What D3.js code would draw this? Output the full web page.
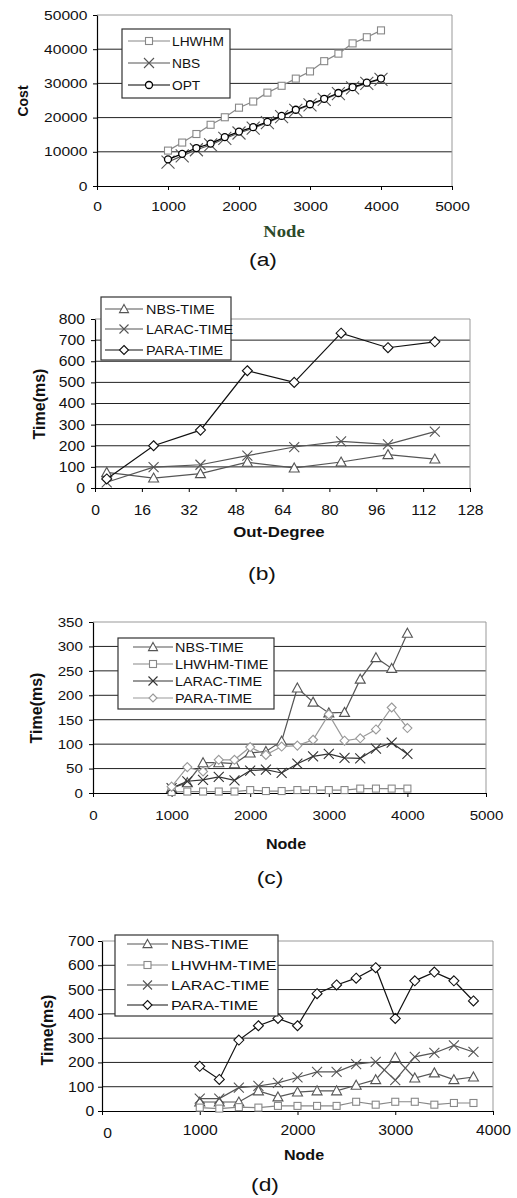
<!DOCTYPE html>
<html>
<head>
<meta charset="utf-8">
<script src="https://cdn.jsdelivr.net/npm/d3@7"></script>
<style>
  body { margin: 0; background: #fff; }
  svg { display: block; font-family: "Liberation Sans", Arial, sans-serif; }
</style>
</head>
<body>
<svg id="chart" width="517" height="1198"></svg>
<script>
// ---- panel (a): cost vs node count
var nodesA = [1000, 1200, 1400, 1600, 1800, 2000, 2200, 2400, 2600, 2800, 3000, 3200, 3400, 3600, 3800, 4000];
var costLHWHM = [10350, 12700, 15200, 17900, 20100, 22900, 24700, 27300, 29300, 31400, 33500, 36500, 38700, 41700, 43500, 45500];
var costNBS = [7000, 8800, 10600, 12000, 13900, 15500, 16900, 18500, 20300, 22100, 23700, 25300, 27000, 28700, 30000, 31200];
var costOPT = [7800, 9400, 11100, 12400, 14300, 15900, 17200, 18750, 20500, 22300, 23900, 25500, 27200, 28900, 30200, 31400];
var ticksXA = [0, 1000, 2000, 3000, 4000, 5000];
var ticksYA = [0, 10000, 20000, 30000, 40000, 50000];

// ---- panel (b): time vs out-degree
var degreeB = [4, 20, 36, 52, 68, 84, 100, 116];
var timeNBSb = [74, 47, 68, 122, 95, 123, 158, 137];
var timeLARACb = [27, 99, 110, 153, 194, 221, 207, 267];
var timePARAb = [43, 200, 274, 555, 500, 733, 664, 692];
var ticksXB = [0, 16, 32, 48, 64, 80, 96, 112, 128];
var ticksYB = [0, 100, 200, 300, 400, 500, 600, 700, 800];

// ---- panel (c): time vs node count
var nodesC = [1000, 1200, 1400, 1600, 1800, 2000, 2200, 2400, 2600, 2800, 3000, 3200, 3400, 3600, 3800, 4000];
var timeNBSc = [10, 21, 62, 62, 60, 82, 85, 106, 215, 186, 164, 165, 233, 277, 255, 327];
var timeLHWHMc = [2, 3, 3, 3, 3, 6, 4, 4, 6, 6, 6, 6, 9, 9, 9, 9];
var timeLARACc = [10, 24, 27, 33, 26, 46, 48, 41, 60, 75, 80, 72, 71, 91, 103, 80];
var timePARAc = [13, 53, 44, 68, 68, 94, 78, 95, 97, 109, 161, 107, 112, 130, 175, 133];
var ticksXC = [0, 1000, 2000, 3000, 4000, 5000];
var ticksYC = [0, 50, 100, 150, 200, 250, 300, 350];

// ---- panel (d): time vs node count
var nodesD = [1000, 1200, 1400, 1600, 1800, 2000, 2200, 2400, 2600, 2800, 3000, 3200, 3400, 3600, 3800];
var timeNBSd = [37, 37, 37, 83, 58, 78, 83, 83, 106, 129, 220, 136, 157, 129, 140];
var timeLHWHMd = [14, 10, 16, 14, 21, 21, 21, 21, 38, 26, 38, 38, 26, 33, 33];
var timeLARACd = [51, 51, 96, 103, 116, 138, 161, 161, 193, 202, 127, 223, 239, 270, 243];
var timePARAd = [184, 130, 292, 351, 381, 351, 483, 519, 547, 590, 381, 536, 572, 536, 453];
var ticksXD = [0, 1000, 2000, 3000, 4000];
var ticksYD = [0, 100, 200, 300, 400, 500, 600, 700];

var svg = d3.select("#chart");

function drawMarker(g, type, x, y, color, s) {
    if (type == "square") {
        g.append("rect").attr("x", x - s).attr("y", y - s).attr("width", 2 * s).attr("height", 2 * s)
            .attr("fill", "#fff").attr("stroke", color).attr("stroke-width", 1.1);
    } else if (type == "circle") {
        g.append("circle").attr("cx", x).attr("cy", y).attr("r", s)
            .attr("fill", "#fff").attr("stroke", color).attr("stroke-width", 1.3);
    } else if (type == "triangle") {
        g.append("path").attr("d", "M" + x + "," + (y - s) + "L" + (x + s) + "," + (y + s * 0.8) + "L" + (x - s) + "," + (y + s * 0.8) + "Z")
            .attr("fill", "#fff").attr("stroke", color).attr("stroke-width", 1.1);
    } else if (type == "diamond") {
        g.append("path").attr("d", "M" + x + "," + (y - s) + "L" + (x + s) + "," + y + "L" + x + "," + (y + s) + "L" + (x - s) + "," + y + "Z")
            .attr("fill", "#fff").attr("stroke", color).attr("stroke-width", 1.1);
    } else if (type == "x") {
        g.append("path").attr("d", "M" + (x - s) + "," + (y - s) + "L" + (x + s) + "," + (y + s) + "M" + (x - s) + "," + (y + s) + "L" + (x + s) + "," + (y - s))
            .attr("fill", "none").attr("stroke", color).attr("stroke-width", 1.1);
    }
}

function drawPanel(p) {
    var g = svg.append("g");
    var x = d3.scaleLinear().domain(p.xDomain).range([p.left, p.right]);
    var y = d3.scaleLinear().domain(p.yDomain).range([p.bottom, p.top]);

    // gridlines
    g.selectAll(".grid").data(p.yTicks.filter(function(d) { return d > 0; }))
        .enter().append("line")
        .attr("x1", p.left).attr("x2", p.right)
        .attr("y1", function(d) { return y(d); }).attr("y2", function(d) { return y(d); })
        .attr("stroke", function(d) { return d == p.yDomain[1] ? "#999" : "#222"; })
        .attr("stroke-width", 1);
    g.append("line").attr("x1", p.right).attr("x2", p.right).attr("y1", p.top).attr("y2", p.bottom)
        .attr("stroke", "#999");

    // axes
    var ax = g.append("g").attr("transform", "translate(0," + p.bottom + ")")
        .call(d3.axisBottom(x).tickValues(p.xTicks).tickSize(4).tickPadding(p.xPad).tickSizeOuter(0)
            .tickFormat(d3.format("d")));
    var ay = g.append("g").attr("transform", "translate(" + p.left + ",0)")
        .call(d3.axisLeft(y).tickValues(p.yTicks).tickSize(4).tickPadding(p.yPad).tickSizeOuter(0)
            .tickFormat(d3.format("d")));
    [ax, ay].forEach(function(a) {
        a.select(".domain").attr("stroke", "#000").attr("stroke-width", 1.2);
        a.selectAll(".tick line").attr("stroke", "#000");
        a.selectAll("text").attr("font-size", p.fontSize).attr("fill", "#111")
            .attr("font-family", "'Liberation Sans', Arial, sans-serif")
            .attr("transform", "scale(" + p.sx + ",1)");
    });
    if (p.xLabelShift) {
        ax.selectAll(".tick").filter(function(d) { return d == 0; }).select("text")
            .attr("transform", "translate(" + p.xLabelShift[0] + "," + p.xLabelShift[1] + ") scale(" + p.sx + ",1)");
    }

    // series
    var line = d3.line().x(function(d) { return x(d[0]); }).y(function(d) { return y(d[1]); });
    p.series.forEach(function(s) {
        var pts = s.xs.map(function(v, i) { return [v, s.values[i]]; });
        g.append("path").datum(pts).attr("d", line)
            .attr("fill", "none").attr("stroke", s.color).attr("stroke-width", 1.2);
        var mg = g.append("g");
        pts.forEach(function(d) { drawMarker(mg, s.marker, x(d[0]), y(d[1]), s.color, s.size); });
    });

    // legend
    var lg = g.append("g");
    lg.append("rect").attr("x", p.legend.box[0]).attr("y", p.legend.box[1])
        .attr("width", p.legend.box[2] - p.legend.box[0]).attr("height", p.legend.box[3] - p.legend.box[1])
        .attr("fill", "#fff").attr("stroke", "#333").attr("stroke-width", 1.2);
    p.series.forEach(function(s, i) {
        var ry = p.legend.rows[i];
        lg.append("line").attr("x1", p.legend.line[0]).attr("x2", p.legend.line[1])
            .attr("y1", ry).attr("y2", ry).attr("stroke", s.color).attr("stroke-width", 1.2);
        drawMarker(lg, s.marker, (p.legend.line[0] + p.legend.line[1]) / 2, ry, s.color, s.legendSize || s.size * 0.8);
        lg.append("text").attr("transform", "translate(" + p.legend.textX + "," + (ry + 4.5) + ") scale(" + p.legend.sx + ",1)")
            .attr("font-size", 12.5).attr("fill", "#111").text(s.name);
    });

    // titles
    g.append("text").attr("transform", "translate(" + p.xTitle.x + "," + p.xTitle.y + ") scale(" + p.xTitle.sx + ",1)")
        .attr("text-anchor", "middle").attr("font-size", p.xTitle.size).attr("font-weight", "bold")
        .attr("font-family", p.xTitle.family || "'Liberation Sans', Arial, sans-serif")
        .attr("fill", p.xTitle.color || "#111").text(p.xTitle.text);
    g.append("text").attr("transform", "translate(" + p.yTitle.x + "," + p.yTitle.y + ") rotate(-90)")
        .attr("text-anchor", "middle").attr("font-size", p.yTitle.size).attr("font-weight", "bold")
        .attr("fill", "#111").text(p.yTitle.text);
    g.append("text").attr("transform", "translate(" + p.caption.x + "," + p.caption.y + ") scale(1.2,1)")
        .attr("text-anchor", "middle").attr("font-size", 19).attr("fill", "#111").text(p.caption.text);
}

drawPanel({
    left: 97, right: 452, top: 15, bottom: 186,
    xDomain: [0, 5000], yDomain: [0, 50000], xTicks: ticksXA, yTicks: ticksYA,
    fontSize: 13, sx: 1.2, xPad: 12, yPad: 4,
    series: [
        { name: "LHWHM", xs: nodesA, values: costLHWHM, color: "#888", marker: "square", size: 3.5, legendSize: 3.5 },
        { name: "NBS", xs: nodesA, values: costNBS, color: "#555", marker: "x", size: 6.5, legendSize: 5 },
        { name: "OPT", xs: nodesA, values: costOPT, color: "#000", marker: "circle", size: 3.5, legendSize: 3.5 }
    ],
    legend: { box: [122, 29, 230, 98], rows: [41, 63, 85], line: [128, 170], textX: 172, sx: 1.1 },
    xTitle: { text: "Node", x: 284, y: 237, size: 17, sx: 1.1, family: "'Liberation Serif', 'Times New Roman', serif", color: "#2d4a2b" },
    yTitle: { text: "Cost", x: 28, y: 101, size: 14 },
    caption: { text: "(a)", x: 263, y: 266 }
});

drawPanel({
    left: 95, right: 470, top: 319, bottom: 488,
    xDomain: [0, 128], yDomain: [0, 800], xTicks: ticksXB, yTicks: ticksYB,
    fontSize: 14, sx: 1.12, xPad: 13, yPad: 5,
    series: [
        { name: "NBS-TIME", xs: degreeB, values: timeNBSb, color: "#555", marker: "triangle", size: 5, legendSize: 4.5 },
        { name: "LARAC-TIME", xs: degreeB, values: timeLARACb, color: "#555", marker: "x", size: 5, legendSize: 4.5 },
        { name: "PARA-TIME", xs: degreeB, values: timePARAb, color: "#111", marker: "diamond", size: 5, legendSize: 4.5 }
    ],
    legend: { box: [101, 297, 231, 360], rows: [309, 329, 350], line: [105, 143], textX: 146, sx: 1.15 },
    xTitle: { text: "Out-Degree", x: 279, y: 537, size: 14, sx: 1.2 },
    yTitle: { text: "Time(ms)", x: 45, y: 404, size: 16 },
    caption: { text: "(b)", x: 262, y: 580 }
});

drawPanel({
    left: 93, right: 486, top: 622, bottom: 793,
    xDomain: [0, 5000], yDomain: [0, 350], xTicks: ticksXC, yTicks: ticksYC,
    fontSize: 13.5, sx: 1.12, xPad: 13, yPad: 5,
    series: [
        { name: "NBS-TIME", xs: nodesC, values: timeNBSc, color: "#555", marker: "triangle", size: 5, legendSize: 4.5 },
        { name: "LHWHM-TIME", xs: nodesC, values: timeLHWHMc, color: "#888", marker: "square", size: 3.5, legendSize: 3.5 },
        { name: "LARAC-TIME", xs: nodesC, values: timeLARACc, color: "#333", marker: "x", size: 5, legendSize: 4.5 },
        { name: "PARA-TIME", xs: nodesC, values: timePARAc, color: "#999", marker: "diamond", size: 4.5, legendSize: 4 }
    ],
    legend: { box: [118, 638, 274, 709], rows: [647, 664, 681, 698], line: [133, 173], textX: 175, sx: 1.15 },
    xTitle: { text: "Node", x: 286, y: 849, size: 14, sx: 1.15 },
    yTitle: { text: "Time(ms)", x: 42, y: 708, size: 16 },
    caption: { text: "(c)", x: 270, y: 884 }
});

drawPanel({
    left: 102, right: 493, top: 941, bottom: 1111,
    xDomain: [0, 4000], yDomain: [0, 700], xTicks: ticksXD, yTicks: ticksYD,
    fontSize: 14, sx: 1.12, xPad: 10, yPad: 3, xLabelShift: [5, 3],
    series: [
        { name: "NBS-TIME", xs: nodesD, values: timeNBSd, color: "#555", marker: "triangle", size: 5, legendSize: 4.5 },
        { name: "LHWHM-TIME", xs: nodesD, values: timeLHWHMd, color: "#888", marker: "square", size: 3.5, legendSize: 3.5 },
        { name: "LARAC-TIME", xs: nodesD, values: timeLARACd, color: "#555", marker: "x", size: 5, legendSize: 4.5 },
        { name: "PARA-TIME", xs: nodesD, values: timePARAd, color: "#111", marker: "diamond", size: 5, legendSize: 4.5 }
    ],
    legend: { box: [115, 935, 278, 1016], rows: [944, 965, 985, 1005], line: [127, 168], textX: 171, sx: 1.3 },
    xTitle: { text: "Node", x: 304, y: 1160, size: 14, sx: 1.15 },
    yTitle: { text: "Time(ms)", x: 53, y: 1030, size: 16 },
    caption: { text: "(d)", x: 265, y: 1191 }
});
</script>
</body>
</html>
